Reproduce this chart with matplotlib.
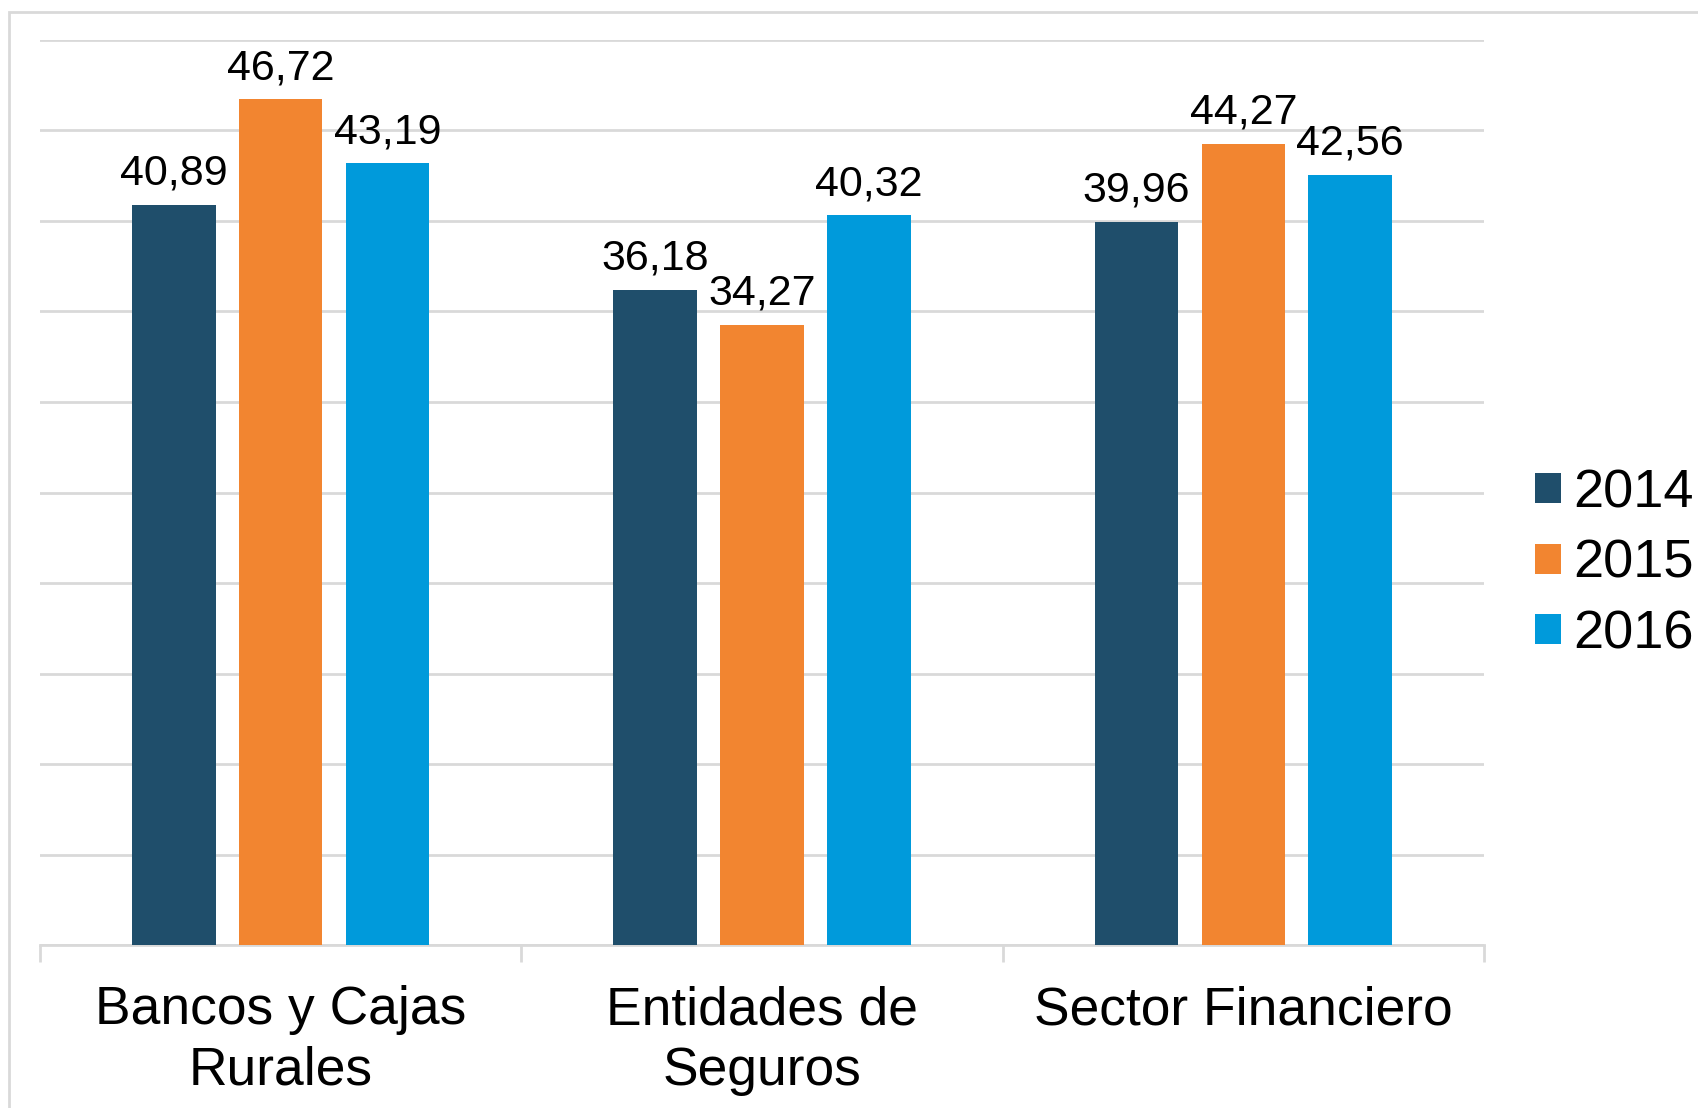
import numpy as np
import matplotlib
matplotlib.use("Agg")
import matplotlib.pyplot as plt
from matplotlib.patches import Rectangle

plt.rcParams['font.family'] = ['Liberation Sans', 'DejaVu Sans']

categories = ["Bancos y Cajas\nRurales", "Entidades de\nSeguros", "Sector Financiero"]
years = ["2014", "2015", "2016"]
values_2014 = [40.89, 36.18, 39.96]
values_2015 = [46.72, 34.27, 44.27]
values_2016 = [43.19, 40.32, 42.56]
colors = ["#1F4E6B", "#F28530", "#009ADB"]

series = [values_2014, values_2015, values_2016]

fig = plt.figure(figsize=(16.99, 11.08), dpi=100)
ax = fig.add_axes([0.0235, 0.147, 0.85, 0.817])

# light outer border like the source chart
fig.patches.append(Rectangle((9 / 1699, -0.05), 1.1, 1.05 - 12 / 1108,
                             transform=fig.transFigure, fill=False,
                             edgecolor="#D9D9D9", linewidth=2))

x = np.arange(len(categories))
width = 0.174
step = 0.222
for i, (vals, yr, col) in enumerate(zip(series, years, colors)):
    bars = ax.bar(x + (i - 1) * step, vals, width, color=col, label=yr, zorder=3)
    for b, v in zip(bars, vals):
        ax.annotate(f"{v:.2f}".replace(".", ","),
                    (b.get_x() + b.get_width() / 2, v),
                    xytext=(0, 8), textcoords="offset points",
                    ha="center", va="bottom", fontsize=31)

ax.set_xlim(-0.5, 2.5)
ax.set_ylim(0, 50)
ax.set_yticks(np.arange(0, 55, 5))
ax.yaxis.grid(True, color="#D9D9D9", linewidth=2, zorder=0)
ax.tick_params(axis="y", length=0, labelleft=False)

ax.set_xticks(x)
ax.set_xticklabels(categories, fontsize=38.4, linespacing=1.27)
ax.tick_params(axis="x", which="major", length=0, pad=29)
ax.set_xticks([-0.5, 0.5, 1.5, 2.5], minor=True)
ax.tick_params(axis="x", which="minor", length=12, width=2, color="#D9D9D9")

for s in ["left", "right", "top"]:
    ax.spines[s].set_visible(False)
ax.spines["bottom"].set_color("#D9D9D9")
ax.spines["bottom"].set_linewidth(2)

ax.legend(loc="center left", bbox_to_anchor=(0.9036, 0.491),
          bbox_transform=fig.transFigure, frameon=False, fontsize=39,
          handlelength=0.47, handleheight=0.47, handletextpad=0.24,
          labelspacing=0.38, borderpad=0, borderaxespad=0)

fig.savefig("out.png", dpi=100)
